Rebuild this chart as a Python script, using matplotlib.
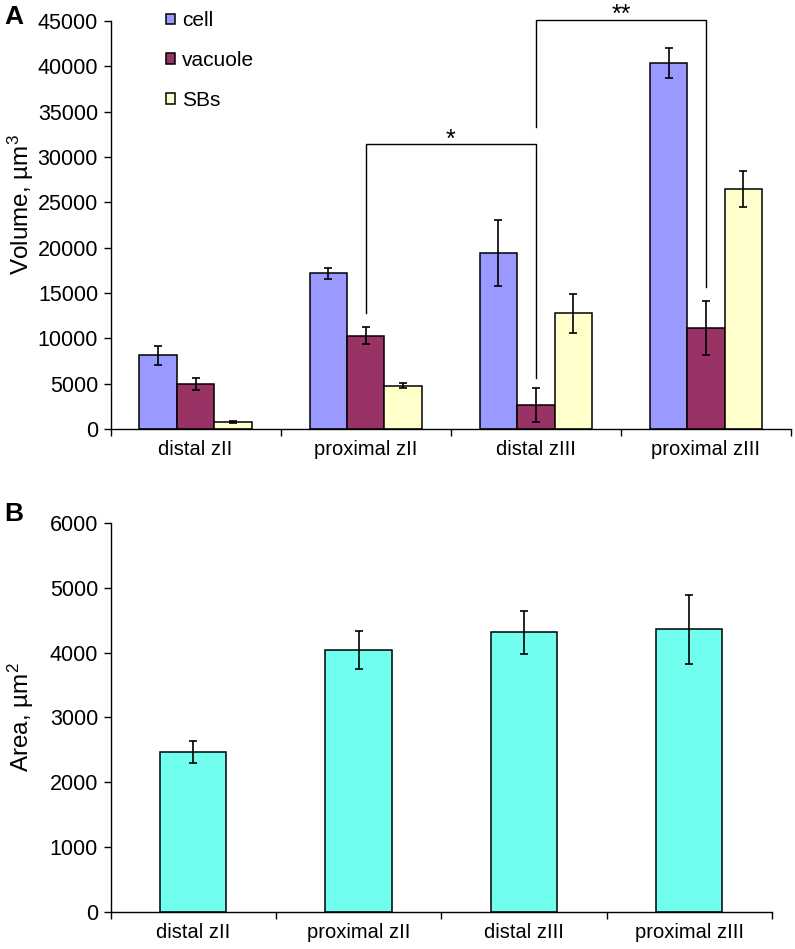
import matplotlib
matplotlib.use("Agg")
import matplotlib.pyplot as plt
import numpy as np

plt.rcParams['font.family'] = ['Liberation Sans', 'DejaVu Sans']
plt.rcParams['mathtext.fontset'] = 'custom'
plt.rcParams['mathtext.rm'] = 'Liberation Sans'
plt.rcParams['mathtext.default'] = 'rm'

# panel A: volumes
groups = ['distal zII', 'proximal zII', 'distal zIII', 'proximal zIII']
cell = [8100, 17150, 19400, 40350]
cell_err = [1000, 620, 3650, 1650]
vacuole = [4950, 10300, 2650, 11150]
vacuole_err = [680, 920, 1900, 2950]
sbs = [780, 4770, 12750, 26450]
sbs_err = [120, 270, 2170, 2000]

# panel B: areas
area = [2465, 4040, 4310, 4360]
area_err = [175, 295, 330, 530]

C_CELL = '#9999FF'
C_VAC = '#993366'
C_SBS = '#FFFFCC'
C_AREA = '#70FFEE'

fig = plt.figure(figsize=(7.95, 9.49), dpi=100)
axA = fig.add_axes([0.139, 0.548, 0.856, 0.430])
axB = fig.add_axes([0.139, 0.039, 0.832, 0.410])

def style_axis(ax, ymax, step):
    for s in ['top', 'right']:
        ax.spines[s].set_visible(False)
    for s in ['left', 'bottom']:
        ax.spines[s].set_linewidth(1.0)
    ax.set_xlim(-0.5, 3.5)
    ax.set_ylim(0, ymax)
    ax.set_yticks(np.arange(0, ymax + 1, step))
    ax.set_xticks(range(4))
    ax.set_xticklabels(groups)
    ax.set_xticks([-0.5, 0.5, 1.5, 2.5, 3.5], minor=True)
    ax.tick_params(axis='x', which='major', length=0, pad=8, labelsize=14.5)
    ax.tick_params(axis='x', which='minor', length=5, width=1.0)
    ax.tick_params(axis='y', length=5, width=1.0, labelsize=15.5, pad=4)

x = np.arange(len(groups))
w = 0.22
ekw = dict(elinewidth=1.2, capthick=1.2, ecolor='black')
axA.bar(x - w, cell, w, color=C_CELL, edgecolor='black', linewidth=1.1, label='cell',
        yerr=cell_err, capsize=3, error_kw=ekw)
axA.bar(x, vacuole, w, color=C_VAC, edgecolor='black', linewidth=1.1, label='vacuole',
        yerr=vacuole_err, capsize=3, error_kw=ekw)
axA.bar(x + w, sbs, w, color=C_SBS, edgecolor='black', linewidth=1.1, label='SBs',
        yerr=sbs_err, capsize=3, error_kw=ekw)
style_axis(axA, 45000, 5000)
axA.set_ylabel('Volume, µm$^3$', fontsize=17.5)
axA.yaxis.set_label_coords(-0.11, 0.55)

axA.legend(loc='upper left', bbox_to_anchor=(0.082, 1.023), frameon=False, fontsize=15,
           handlelength=0.42, handleheight=0.42, handletextpad=0.35, labelspacing=1.0,
           borderpad=0, borderaxespad=0)

# significance brackets
def bracket(ax, x1, x2, y, y1, y2, label):
    ax.plot([x1, x1, x2, x2], [y1, y, y, y2], color='black', lw=1.0, clip_on=False)
    ax.annotate(label, xy=((x1 + x2) / 2, y), xytext=(0, -2), textcoords='offset points',
                ha='center', va='baseline', fontsize=18, annotation_clip=False)

bracket(axA, 1, 2, 31400, 12800, 5650, '*')
bracket(axA, 2, 3, 45150, 33250, 15600, '**')

axB.bar(x, area, 0.4, color=C_AREA, edgecolor='black', linewidth=1.1,
        yerr=area_err, capsize=3, error_kw=ekw)
style_axis(axB, 6000, 1000)
axB.set_ylabel('Area, µm$^2$', fontsize=17.5)
axB.yaxis.set_label_coords(-0.113, 0.5)

fig.text(0.018, 0.982, 'A', fontsize=19, fontweight='bold', va='center', ha='center')
fig.text(0.017, 0.458, 'B', fontsize=19, fontweight='bold', va='center', ha='center')

fig.savefig('out.png', dpi=100)
